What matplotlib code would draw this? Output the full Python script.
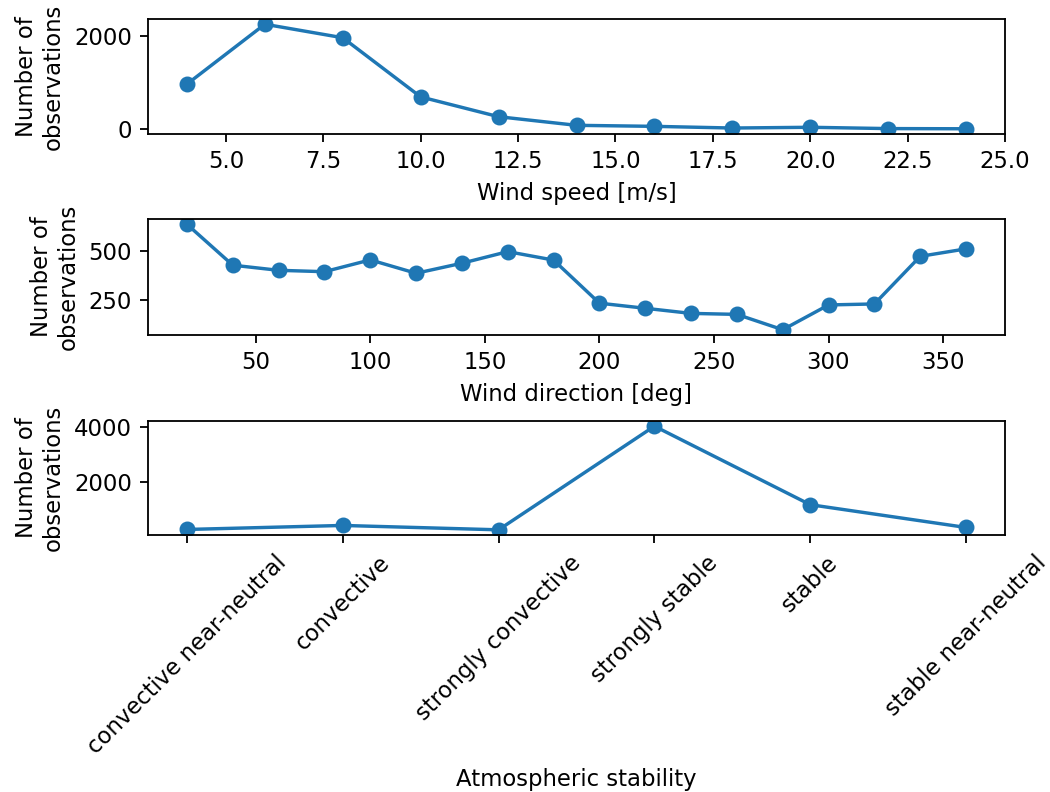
import matplotlib
matplotlib.use('Agg')
import matplotlib.pyplot as plt

# %% Data
wind_speed = [4, 6, 8, 10, 12, 14, 16, 18, 20, 22, 24]
n_obs_speed = [965, 2250, 1960, 690, 265, 80, 58, 22, 38, 10, 6]

wind_dir = [20, 40, 60, 80, 100, 120, 140, 160, 180, 200, 220, 240, 260, 280, 300, 320, 340, 360]
n_obs_dir = [634, 426, 400, 393, 453, 385, 436, 495, 452, 233, 207, 181, 176, 98, 224, 229, 471, 509]

stability = ['convective near-neutral', 'convective', 'strongly convective',
             'strongly stable', 'stable', 'stable near-neutral']
n_obs_stab = [248, 395, 235, 4025, 1154, 321]

# %% Plot
dpi = 164
fig, axs = plt.subplots(3, 1, figsize=(1050 / dpi, 792 / dpi), dpi=dpi)

axs[0].plot(wind_speed, n_obs_speed, marker='o')
axs[0].set_xlabel('Wind speed [m/s]')
axs[0].set_ylabel('Number of\nobservations')

axs[1].plot(wind_dir, n_obs_dir, marker='o')
axs[1].set_xlabel('Wind direction [deg]')
axs[1].set_ylabel('Number of\nobservations')

axs[2].plot(stability, n_obs_stab, marker='o')
axs[2].set_xlabel('Atmospheric stability')
axs[2].set_ylabel('Number of\nobservations')
axs[2].tick_params(axis='x', labelrotation=45)

# axes placement to follow the reference layout
left, width = 148 / 1050, (1005 - 148) / 1050
for ax, (top, bot) in zip(axs, [(19, 134), (219, 335), (421, 535)]):
    ax.set_position([left, 1 - bot / 792, width, (bot - top) / 792])

fig.savefig('out.png', dpi=dpi)
